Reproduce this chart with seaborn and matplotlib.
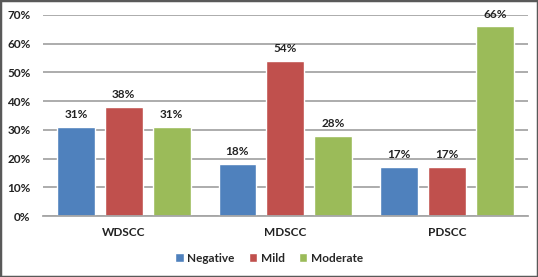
import matplotlib
matplotlib.use("Agg")
import matplotlib.pyplot as plt
import seaborn as sns
import pandas as pd
from matplotlib.patches import Rectangle

groups = ["WDSCC", "MDSCC", "PDSCC"]
series = ["Negative", "Mild", "Moderate"]
negative = [31, 18, 17]
mild = [38, 54, 17]
moderate = [31, 28, 66]
yticks = [0, 10, 20, 30, 40, 50, 60, 70]
colors = ["#4F81BD", "#C0504D", "#9BBB59"]

rows = []
for s, vals in zip(series, [negative, mild, moderate]):
    for g, v in zip(groups, vals):
        rows.append({"group": g, "series": s, "value": v})
df = pd.DataFrame(rows)

sns.set_theme(style="white")
plt.rcParams["font.family"] = ["Lato", "DejaVu Sans"]

fig = plt.figure(figsize=(5.38, 2.77), dpi=100)
ax = fig.add_axes([0.080, 0.220, 0.901, 0.726])

sns.barplot(data=df, x="group", y="value", hue="series", order=groups,
            hue_order=series, palette=colors, width=0.89, gap=0.21,
            saturation=1, ax=ax, legend=True, errorbar=None)

for c in ax.containers:
    ax.bar_label(c, labels=[f"{int(v)}%" for v in c.datavalues], padding=5,
                 fontsize=8.5, fontweight="bold", color="#222222")

ax.set_ylim(0, 70)
ax.set_xlim(-0.5, 2.5)
ax.set_yticks(yticks)
ax.set_yticklabels([f"{t}%" for t in yticks], fontsize=8.5, fontweight="bold", color="#222222")
ax.set_xticks(range(len(groups)))
ax.set_xticklabels(groups, fontsize=8.5, fontweight="bold", color="#222222")
ax.tick_params(axis="x", length=0, pad=8)
ax.tick_params(axis="y", length=0, pad=9)
ax.yaxis.grid(True, color="#A6A6A6", linewidth=1.3)
ax.set_axisbelow(True)
for s in ["top", "right", "left"]:
    ax.spines[s].set_visible(False)
ax.spines["bottom"].set_color("#A6A6A6")
ax.spines["bottom"].set_linewidth(1.3)
ax.set_xlabel("")
ax.set_ylabel("")

handles, labels = ax.get_legend_handles_labels()
ax.legend(handles, labels, loc="center", bbox_to_anchor=(0.5, 0.068),
          bbox_transform=fig.transFigure, ncol=3, frameon=False,
          prop={"size": 8.5, "weight": "bold"}, handlelength=0.7, handleheight=0.7,
          handletextpad=0.3, columnspacing=1.2)

fig.patches.append(Rectangle((0, 0), 1, 1, transform=fig.transFigure,
                             fill=False, edgecolor="#595959", linewidth=2.5))

fig.savefig("out.png", dpi=100)
